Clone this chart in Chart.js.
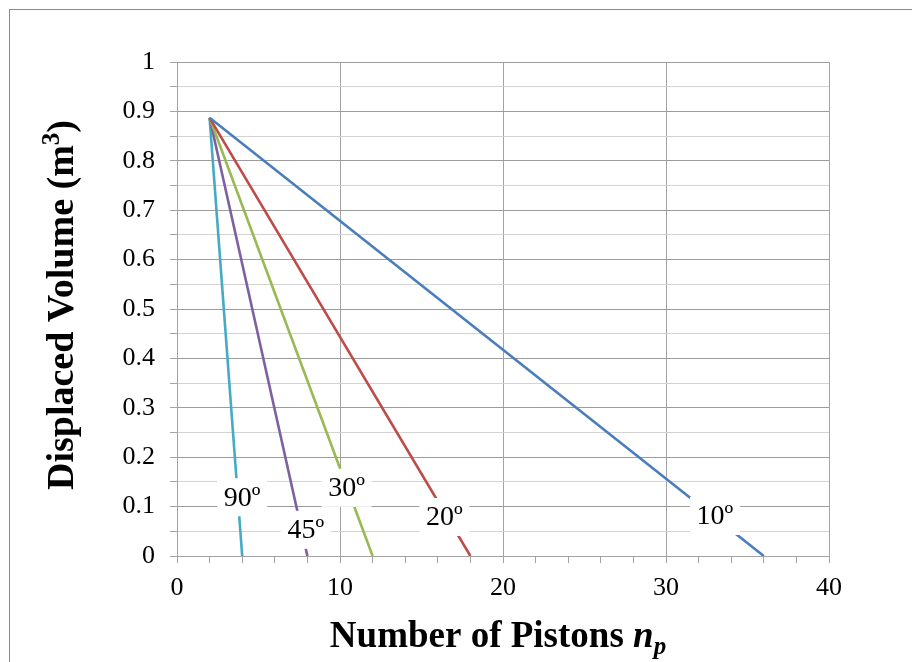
<!DOCTYPE html>
<html>
<head>
<meta charset="utf-8">
<script src="https://cdn.jsdelivr.net/npm/chart.js@4.4.1/dist/chart.umd.min.js"></script>
<style>
  html, body { margin: 0; padding: 0; background: #ffffff; }
  #wrap { position: relative; width: 912px; height: 662px; }
</style>
</head>
<body>
<div id="wrap"><canvas id="chart" width="912" height="662"></canvas></div>
<script>
// Swash-plate angle of each curve and the piston count where its volume reaches zero
const angles = ['10º', '20º', '30º', '45º', '90º'];
const startPistons = 2;
const startVolume = 0.887;
const endPistons = [36, 18, 12, 8, 4];
const endVolume = 0;
const colors = ['#4A7EBB', '#BE4B48', '#98B954', '#7D60A0', '#46AAC5'];

// Where each angle annotation sits (piston count, volume)
const labelX = [33.0, 16.4, 10.4, 7.9, 4.0];
const labelY = [0.081, 0.079, 0.138, 0.053, 0.119];

const SERIF = "'Liberation Serif', 'Times New Roman', serif";

const datasets = angles.map((a, i) => ({
  label: a,
  data: [{ x: startPistons, y: startVolume }, { x: endPistons[i], y: endVolume }],
  borderColor: colors[i],
  backgroundColor: colors[i],
  borderWidth: 2.6,
  pointRadius: 0,
  tension: 0,
  showLine: true,
  fill: false
}));

const isMultiple = (v, step) => Math.abs(Math.round(v / step) * step - v) < 1e-6;

// White-boxed angle labels on top of the curves
const angleLabels = {
  id: 'angleLabels',
  afterDatasetsDraw(chart) {
    const { ctx, scales: { x, y } } = chart;
    ctx.save();
    ctx.font = '28px ' + SERIF;
    ctx.textAlign = 'center';
    ctx.textBaseline = 'middle';
    angles.forEach((a, i) => {
      const px = x.getPixelForValue(labelX[i]);
      const py = y.getPixelForValue(labelY[i]);
      ctx.fillStyle = '#ffffff';
      ctx.fillRect(px - 25, py - 19, 50, 38);
      ctx.fillStyle = '#000000';
      ctx.fillText(a, px, py + 1);
    });
    ctx.restore();
  }
};

// Axis titles with superscript / italic subscript, plus the outer frame
const axisTitles = {
  id: 'axisTitles',
  afterDraw(chart) {
    const { ctx, chartArea } = chart;
    ctx.save();
    ctx.fillStyle = '#000000';
    ctx.textBaseline = 'alphabetic';

    // X title: Number of Pistons n_p
    const main = 'Number of Pistons ';
    const fMain = 'bold 37px ' + SERIF;
    const fIt = 'italic bold 37px ' + SERIF;
    const fSub = 'italic bold 25px ' + SERIF;
    ctx.font = fMain; const w1 = ctx.measureText(main).width;
    ctx.font = fIt; const w2 = ctx.measureText('n').width;
    ctx.font = fSub; const w3 = ctx.measureText('p').width;
    const total = w1 + w2 + w3;
    const cx = (chartArea.left + chartArea.right) / 2 - 5;
    let sx = cx - total / 2;
    const base = 647;
    ctx.textAlign = 'left';
    ctx.font = fMain; ctx.fillText(main, sx, base); sx += w1;
    ctx.font = fIt; ctx.fillText('n', sx, base); sx += w2;
    ctx.font = fSub; ctx.fillText('p', sx, base + 7);

    // Y title: Displaced Volume (m^3)
    const yMain = 'Displaced Volume (m';
    const fY = 'bold 38px ' + SERIF;
    const fYs = 'bold 25px ' + SERIF;
    ctx.font = fY; const a1 = ctx.measureText(yMain).width;
    ctx.font = fYs; const a2 = ctx.measureText('3').width;
    ctx.font = fY; const a3 = ctx.measureText(')').width;
    const ytot = a1 + a2 + a3;
    ctx.translate(73, (chartArea.top + chartArea.bottom) / 2 - 4);
    ctx.rotate(-Math.PI / 2);
    let tx = -ytot / 2;
    ctx.font = fY; ctx.fillText(yMain, tx, 0); tx += a1;
    ctx.font = fYs; ctx.fillText('3', tx, -14); tx += a2;
    ctx.font = fY; ctx.fillText(')', tx, 0);
    ctx.restore();

    // outer frame
    ctx.save();
    ctx.strokeStyle = '#8a8a8a';
    ctx.lineWidth = 1;
    ctx.strokeRect(9.5, 9.5, 1000, 1000);
    ctx.restore();
  }
};

new Chart(document.getElementById('chart'), {
  type: 'scatter',
  data: { datasets },
  options: {
    responsive: false,
    animation: false,
    layout: { padding: { left: 0, top: 62, right: 83, bottom: 0 } },
    plugins: {
      legend: { display: false },
      tooltip: { enabled: false }
    },
    scales: {
      x: {
        type: 'linear',
        min: 0, max: 40,
        afterFit(scale) { scale.height = 106; },
        ticks: {
          stepSize: 2,
          autoSkip: false,
          maxRotation: 0,
          padding: 10,
          color: '#000000',
          font: { family: SERIF, size: 26 },
          callback: (v) => isMultiple(v, 10) ? String(Math.round(v)) : ''
        },
        grid: {
          color: (c) => isMultiple(c.tick.value, 10) ? '#a3a3a3' : 'rgba(0,0,0,0)',
          tickColor: '#a3a3a3',
          tickLength: 7,
          lineWidth: 1
        },
        border: { color: '#a3a3a3' }
      },
      y: {
        type: 'linear',
        min: 0, max: 1,
        afterFit(scale) { scale.width = 177; },
        ticks: {
          stepSize: 0.05,
          autoSkip: false,
          padding: 15,
          color: '#000000',
          font: { family: SERIF, size: 26 },
          callback: (v) => isMultiple(v, 0.1) ? String(Math.round(v * 10) / 10) : ''
        },
        grid: {
          color: (c) => isMultiple(c.tick.value, 0.1) ? '#9c9c9c' : '#d3d3d3',
          tickColor: '#a3a3a3',
          tickLength: 7,
          lineWidth: 1
        },
        border: { color: '#a3a3a3' }
      }
    }
  },
  plugins: [angleLabels, axisTitles]
});
</script>
</body>
</html>
